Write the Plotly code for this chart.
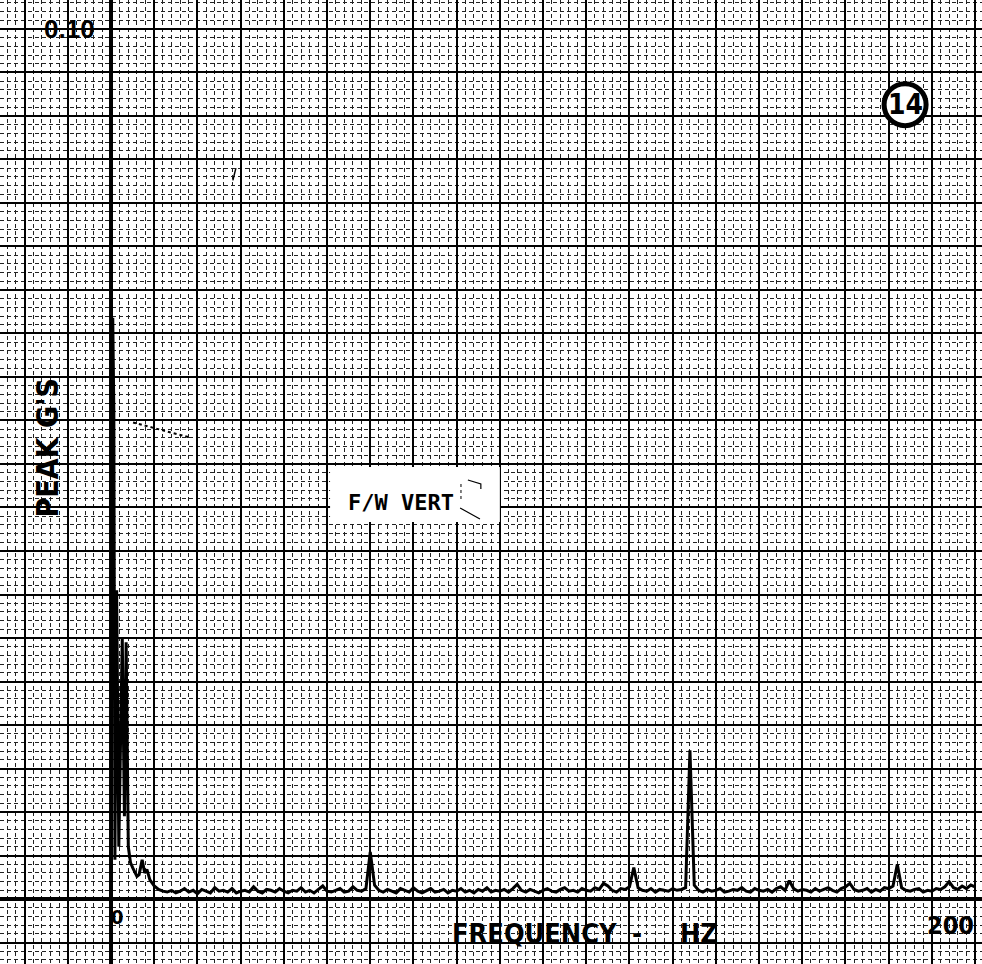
import plotly.graph_objects as go

# ---- Spectrum: F/W vertical, peak g versus frequency ----
# Low-frequency end (finer spacing around the large low-frequency peaks)
low_freq = [0.0, 0.15, 0.4, 0.65, 0.9, 1.3, 1.8, 2.6, 3.1, 3.5, 4.0, 4.5, 5.0, 5.5,
            6.0, 6.5, 7.2, 7.8, 8.3, 9.0, 10.0, 11.0, 12.0]
low_amp = [0.0010, 0.0600, 0.0668, 0.0560, 0.0045, 0.0355, 0.0060, 0.0300, 0.0095,
           0.0295, 0.0060, 0.0042, 0.0036, 0.0030, 0.0026, 0.0028, 0.0045,
           0.0030, 0.0034, 0.0022, 0.0015, 0.0011, 0.0009]

# 13 - 200 Hz, 1 Hz steps
band_amp = [
    0.0008, 0.0010, 0.0007, 0.0009, 0.0012, 0.0008, 0.0010,                  # 13-19
    0.0006, 0.0011, 0.0009, 0.0007, 0.0013, 0.0009, 0.0010, 0.0008, 0.0012, 0.0007,  # 20-29
    0.0009, 0.0010, 0.0008, 0.0014, 0.0009, 0.0007, 0.0011, 0.0010, 0.0008, 0.0012,  # 30-39
    0.0009, 0.0007, 0.0010, 0.0009, 0.0013, 0.0008, 0.0010, 0.0007, 0.0011, 0.0015,  # 40-49
    0.0009, 0.0008, 0.0010, 0.0012, 0.0008, 0.0009, 0.0014, 0.0010, 0.0009, 0.0012,  # 50-59
    0.0054, 0.0016, 0.0010, 0.0008, 0.0011, 0.0009, 0.0007, 0.0012, 0.0010, 0.0008,  # 60-69
    0.0013, 0.0009, 0.0007, 0.0010, 0.0012, 0.0008, 0.0009, 0.0011, 0.0007, 0.0010,  # 70-79
    0.0009, 0.0012, 0.0008, 0.0010, 0.0007, 0.0011, 0.0009, 0.0013, 0.0008, 0.0010,  # 80-89
    0.0009, 0.0011, 0.0008, 0.0012, 0.0017, 0.0010, 0.0008, 0.0011, 0.0009, 0.0007,  # 90-99
    0.0010, 0.0012, 0.0009, 0.0008, 0.0011, 0.0013, 0.0009, 0.0010, 0.0008, 0.0012,  # 100-109
    0.0010, 0.0009, 0.0013, 0.0011, 0.0018, 0.0015, 0.0010, 0.0008, 0.0012, 0.0011,  # 110-119
    0.0014, 0.0036, 0.0013, 0.0010, 0.0009, 0.0012, 0.0008, 0.0011, 0.0010, 0.0009,  # 120-129
    0.0012, 0.0010, 0.0011, 0.0013, 0.0171, 0.0016, 0.0010, 0.0008, 0.0011, 0.0009,  # 130-139
    0.0010, 0.0012, 0.0008, 0.0009, 0.0011, 0.0010, 0.0013, 0.0009, 0.0008, 0.0012,  # 140-149
    0.0010, 0.0009, 0.0011, 0.0008, 0.0012, 0.0014, 0.0010, 0.0021, 0.0012, 0.0009,  # 150-159
    0.0011, 0.0010, 0.0008, 0.0012, 0.0009, 0.0011, 0.0013, 0.0010, 0.0008, 0.0012,  # 160-169
    0.0014, 0.0018, 0.0011, 0.0009, 0.0010, 0.0012, 0.0008, 0.0011, 0.0009, 0.0013,  # 170-179
    0.0012, 0.0015, 0.0040, 0.0013, 0.0010, 0.0009, 0.0011, 0.0012, 0.0008, 0.0010,  # 180-189
    0.0009, 0.0012, 0.0011, 0.0014, 0.0020, 0.0013, 0.0011, 0.0015, 0.0012, 0.0016,  # 190-199
    0.0014,                                                                          # 200
]
band_freq = list(range(13, 13 + len(band_amp)))

freq = low_freq + band_freq
amp = low_amp + band_amp

# Axis labels
x_label_vals = [0, 200]
x_label_text = ["0", "200"]
y_label_vals = [0.10]
y_label_text = ["0.10"]

X_RANGE = [-25.7, 201.6]
Y_RANGE = [-0.00747, 0.10333]

LABEL_FONT = "Liberation Sans Narrow, DejaVu Sans Condensed, Arial Narrow, sans-serif"

fig = go.Figure()
fig.add_trace(go.Scatter(
    x=freq, y=amp, mode="lines",
    line=dict(color="black", width=3),
    hoverinfo="skip",
))

grid_common = dict(
    showgrid=True, gridcolor="black", gridwidth=2,
    zeroline=True, zerolinecolor="black", zerolinewidth=3.5,
    showticklabels=False, ticks="", showline=False, fixedrange=True,
)
minor_common = dict(showgrid=True, gridcolor="#222222", gridwidth=1, griddash="4px,3px")

fig.update_layout(
    width=982, height=964,
    margin=dict(l=0, r=0, t=0, b=0),
    paper_bgcolor="white", plot_bgcolor="white",
    showlegend=False,
    xaxis=dict(range=X_RANGE, tick0=0, dtick=10,
               minor=dict(dtick=2, **minor_common), **grid_common),
    yaxis=dict(range=Y_RANGE, tick0=0, dtick=0.005,
               minor=dict(dtick=0.001, **minor_common), **grid_common),
)

# Tick labels written on the chart paper
fig.add_annotation(x=x_label_vals[0] + 1.6, y=-0.0021, text="<b>%s</b>" % x_label_text[0],
                   showarrow=False, font=dict(family=LABEL_FONT, size=20, color="black"),
                   xanchor="center", yanchor="middle")
fig.add_annotation(x=x_label_vals[1] - 5.6, y=-0.0030, text="<b>%s</b>" % x_label_text[1],
                   showarrow=False, font=dict(family=LABEL_FONT, size=25, color="black"),
                   xanchor="center", yanchor="middle")
fig.add_annotation(x=-9.7, y=y_label_vals[0], text="<b>%s</b>" % y_label_text[0],
                   showarrow=False, font=dict(family="Liberation Sans", size=26, color="black"),
                   xanchor="center", yanchor="middle")

# Axis titles
fig.add_annotation(x=-14.8, y=0.0518, text="<b>PEAK G'S</b>", textangle=-90,
                   showarrow=False, font=dict(family=LABEL_FONT, size=30, color="black"),
                   xanchor="center", yanchor="middle")
fig.add_annotation(x=98.1, y=-0.0040, text="<b>FREQUENCY</b>",
                   showarrow=False, font=dict(family=LABEL_FONT, size=27, color="black"),
                   xanchor="center", yanchor="middle")
fig.add_annotation(x=121.8, y=-0.0040, text="<b>-</b>",
                   showarrow=False, font=dict(family=LABEL_FONT, size=27, color="black"),
                   xanchor="center", yanchor="middle")
fig.add_annotation(x=136.1, y=-0.0040, text="<b>HZ</b>",
                   showarrow=False, font=dict(family=LABEL_FONT, size=27, color="black"),
                   xanchor="center", yanchor="middle")

# Record label box
fig.add_shape(type="rect", x0=50.7, x1=90.0, y0=0.04333, y1=0.04966,
              xref="x", yref="y", fillcolor="white", line=dict(width=0), layer="above")
fig.add_annotation(x=67.1, y=0.04552, text="<b>F/W VERT</b>",
                   showarrow=False, font=dict(family="DejaVu Sans Mono", size=22, color="black"),
                   xanchor="center", yanchor="middle")
fig.add_shape(type="path", xref="x", yref="y", layer="above",
              path="M 82.6,0.04816 L 85.6,0.04770 L 85.6,0.04713 "
                   "M 80.8,0.04494 L 85.4,0.04368",
              line=dict(color="black", width=1.2))
fig.add_shape(type="line", xref="x", yref="y", layer="above",
              x0=81.0, x1=81.0, y0=0.04770, y1=0.04563,
              line=dict(color="black", width=1, dash="dot"))

# Pen marks on the paper
fig.add_shape(type="line", xref="x", yref="y", layer="above",
              x0=5.1, x1=18.3, y0=0.05477, y1=0.05304,
              line=dict(color="black", width=2, dash="dot"))
fig.add_shape(type="line", xref="x", yref="y", layer="above",
              x0=28.9, x1=28.2, y0=0.0840, y1=0.0826,
              line=dict(color="black", width=1.5))

# Sheet number in a circle
fig.add_shape(type="circle", xref="x", yref="y", layer="above",
              xsizemode="pixel", ysizemode="pixel",
              xanchor=183.8, yanchor=0.0913,
              x0=-21, x1=21, y0=-21, y1=21,
              fillcolor="white", line=dict(color="black", width=5))
fig.add_annotation(x=183.8, y=0.0913, text="<b>14</b>",
                   showarrow=False, font=dict(family=LABEL_FONT, size=28, color="black"),
                   xanchor="center", yanchor="middle")

fig.write_html("out.html")
